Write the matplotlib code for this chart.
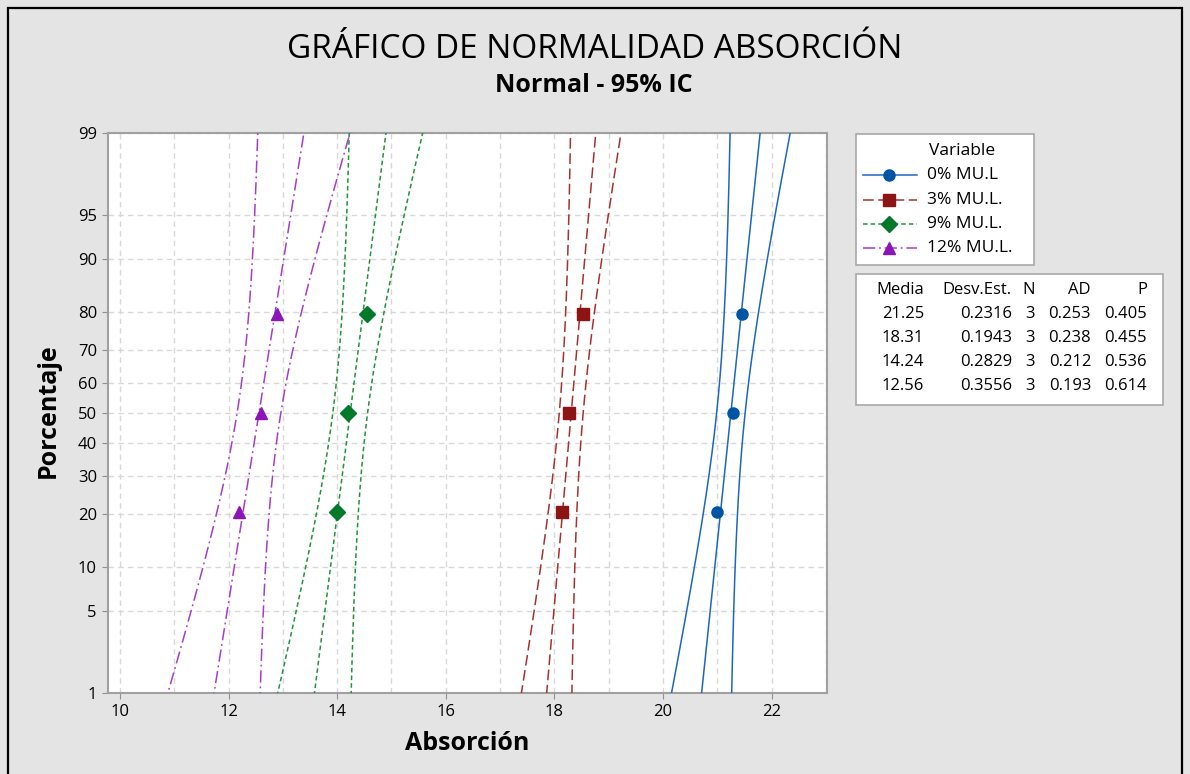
import matplotlib
matplotlib.use("Agg")
import matplotlib.pyplot as plt
from matplotlib import font_manager
from matplotlib.lines import Line2D
from matplotlib.patches import Rectangle
from statistics import NormalDist
import numpy as np

groups = ["0% MU.L", "3% MU.L.", "9% MU.L.", "12% MU.L."]
obs_0 = [20.99, 21.29, 21.46]
obs_3 = [18.14, 18.26, 18.52]
obs_9 = [13.99, 14.20, 14.55]
obs_12 = [12.19, 12.60, 12.90]
observations = [obs_0, obs_3, obs_9, obs_12]

# summary table shown next to the plot
media = [21.25, 18.31, 14.24, 12.56]
desv = [0.2316, 0.1943, 0.2829, 0.3556]
n_obs = [3, 3, 3, 3]
ad = [0.253, 0.238, 0.212, 0.193]
pval = [0.405, 0.455, 0.536, 0.614]

pct_ticks = [1, 5, 10, 20, 30, 40, 50, 60, 70, 80, 90, 95, 99]

# styles
point_col = ["#0054a6", "#8c1414", "#007a2a", "#8a16b8"]
line_col = ["#1f66c0", "#a83030", "#23933a", "#a63ccc"]
dash = [(None), (7, 3), (3, 2), (8, 2.5, 1.2, 2.5)]
markers = ["o", "s", "D", "^"]
msize = [8, 8, 8, 9]

names = {f.name for f in font_manager.fontManager.ttflist}
body_font = "Open Sans" if "Open Sans" in names else "DejaVu Sans"
plt.rcParams["font.family"] = [body_font, "DejaVu Sans"]

nd = NormalDist()
W, H = 1190, 774
fig = plt.figure(figsize=(W / 100, H / 100), dpi=100, facecolor="#e4e4e4")
ax = fig.add_axes([108 / W, 1 - 693 / H, (827 - 108) / W, (693 - 133) / H])
ax.set_facecolor("white")

z = np.linspace(-2.6, 2.6, 200)
for i in range(4):
    m, s, n = media[i], desv[i], n_obs[i]
    fit = m + s * z
    half = 1.96 * s * np.sqrt(1.0 / n + 0.213 * z ** 2)
    for xs in [fit - half, fit, fit + half]:
        ln, = ax.plot(xs, z, color=line_col[i], lw=1.1, zorder=3)
        if dash[i] is not None:
            ln.set_dashes(dash[i])
    x = sorted(observations[i])
    pp = [(j + 1 - 0.3) / (n + 0.4) for j in range(n)]
    zp = [nd.inv_cdf(p) for p in pp]
    ax.plot(x, zp, linestyle="none", marker=markers[i], ms=msize[i],
            color=point_col[i], zorder=4)

ax.set_xlim(9.78, 23.02)
ax.set_ylim(nd.inv_cdf(0.01), nd.inv_cdf(0.99))
ax.set_xticks(np.arange(10, 23, 2))
ax.set_xticks(np.arange(11, 24, 2), minor=True)
ax.set_yticks([nd.inv_cdf(p / 100) for p in pct_ticks])
ax.set_yticklabels([str(p) for p in pct_ticks])
ax.grid(True, which="both", color="#d8d8d8", lw=1.0, dashes=(4, 3), zorder=0)
ax.tick_params(axis="both", which="major", direction="out", length=4,
               color="#909090", labelsize=12, pad=4)
ax.tick_params(axis="x", which="minor", length=0)
for sp in ax.spines.values():
    sp.set_color("#a0a0a0")
    sp.set_linewidth(1.5)

# titles and axis labels
fig.text(595 / W, 1 - 50 / H, "GRÁFICO DE NORMALIDAD ABSORCIÓN",
         fontsize=24, fontweight="medium", ha="center", va="center")
fig.text(594 / W, 1 - 85 / H, "Normal - 95% IC",
         fontsize=18, fontweight="bold", ha="center", va="center")
fig.text(467 / W, 1 - 743 / H, "Absorción", fontsize=18, fontweight="bold",
         ha="center", va="center")
fig.text(48 / W, 1 - 411 / H, "Porcentaje", fontsize=18, fontweight="bold",
         ha="center", va="center", rotation=90)

# legend box
fig.add_artist(Rectangle((856 / W, 1 - 265 / H), (1034 - 856) / W, (265 - 134) / H,
                         transform=fig.transFigure, facecolor="white",
                         edgecolor="#a8a8a8", lw=1.2))
fig.text(962 / W, 1 - 151 / H, "Variable", fontsize=12.5, ha="center", va="center")
row_y = [175, 200, 224, 248]
for i in range(4):
    yy = 1 - row_y[i] / H
    ln = Line2D([863 / W, 917 / W], [yy, yy], transform=fig.transFigure,
                color=line_col[i], lw=1.1)
    if dash[i] is not None:
        ln.set_dashes(dash[i])
    fig.add_artist(ln)
    fig.add_artist(Line2D([889 / W], [yy], transform=fig.transFigure,
                          marker=markers[i], ms=msize[i], color=point_col[i],
                          linestyle="none"))
    fig.text(927 / W, yy, groups[i], fontsize=12.5, ha="left", va="center")

# stats table
fig.add_artist(Rectangle((856 / W, 1 - 405 / H), (1163 - 856) / W, (405 - 274) / H,
                         transform=fig.transFigure, facecolor="white",
                         edgecolor="#a8a8a8", lw=1.2))
col_x = [924, 1012, 1035, 1091, 1147]
headers = ["Media", "Desv.Est.", "N", "AD", "P"]
for c, h in enumerate(headers):
    fig.text(col_x[c] / W, 1 - 290 / H, h, fontsize=12, ha="right", va="center")
tab_y = [314, 338, 362, 386]
for r in range(4):
    cells = [f"{media[r]:.2f}", f"{desv[r]:.4f}", str(n_obs[r]),
             f"{ad[r]:.3f}", f"{pval[r]:.3f}"]
    for c, t in enumerate(cells):
        fig.text(col_x[c] / W, 1 - tab_y[r] / H, t, fontsize=12,
                 ha="right", va="center")

# outer border
fig.add_artist(Rectangle((8 / W, -0.05), (1182 - 8) / W, 1.05 - 8 / H,
                         transform=fig.transFigure, fill=False,
                         edgecolor="black", lw=1.6))

fig.savefig("out.png", dpi=100, facecolor=fig.get_facecolor())
